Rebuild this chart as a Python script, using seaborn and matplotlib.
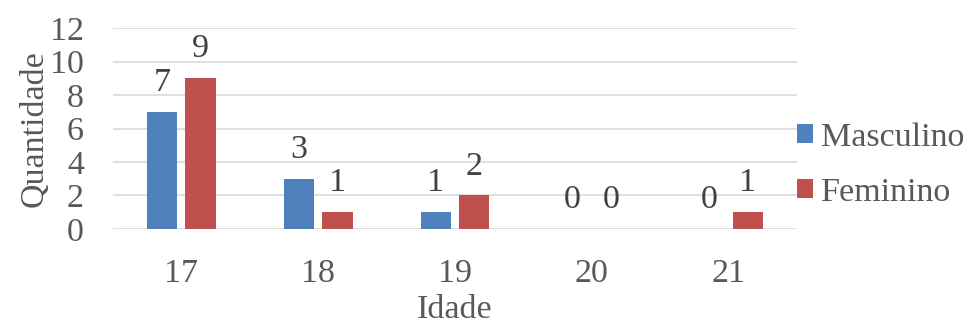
import matplotlib
matplotlib.use("Agg")
import matplotlib.pyplot as plt
import seaborn as sns
import pandas as pd

idades = ["17", "18", "19", "20", "21"]
masculino = [7, 3, 1, 0, 0]
feminino = [9, 1, 2, 0, 1]
series = ["Masculino", "Feminino"]
cores = ["#4F81BD", "#C0504D"]

df = pd.DataFrame({
    "Idade": idades * 2,
    "Quantidade": masculino + feminino,
    "Sexo": [series[0]] * len(idades) + [series[1]] * len(idades),
})

sns.set_theme(style="white")
plt.rcParams["font.family"] = ["Liberation Serif", "DejaVu Serif"]
texto = "#595959"
fs = 24.5

fig = plt.figure(figsize=(9.68, 3.25), dpi=100)
ax = fig.add_axes([0.1167, 0.2954, 0.7066, 0.6184])

sns.barplot(data=df, x="Idade", y="Quantidade", hue="Sexo", order=idades,
            hue_order=series, palette=cores, width=0.562, gap=0.21,
            saturation=1, ax=ax, edgecolor="none")

for cont in ax.containers:
    ax.bar_label(cont, fmt="%d", padding=10, fontsize=fs, color="#404040")

ax.set_ylim(0, 12)
ax.set_yticks(range(0, 13, 2))
ax.set_xlim(-0.5, 4.5)
ax.yaxis.grid(True, color="#D9D9D9", linewidth=1.2)
ax.set_axisbelow(True)
for s in ax.spines.values():
    s.set_visible(False)
ax.tick_params(axis="both", length=0, labelsize=fs, labelcolor=texto)
ax.tick_params(axis="x", pad=21)
ax.tick_params(axis="y", pad=21)
ax.set_xlabel("Idade", fontsize=fs, color=texto, labelpad=4)
ax.set_ylabel("Quantidade", fontsize=fs, color=texto, labelpad=0)

handles, labels = ax.get_legend_handles_labels()
ax.legend(handles, labels, loc="center left", bbox_to_anchor=(1.0, 0.318),
          frameon=False, fontsize=fs, labelcolor=texto, handlelength=0.47,
          handleheight=0.47, handletextpad=0.24, labelspacing=0.72,
          borderaxespad=0.0, borderpad=0.0)

fig.savefig("out.png", dpi=100)
